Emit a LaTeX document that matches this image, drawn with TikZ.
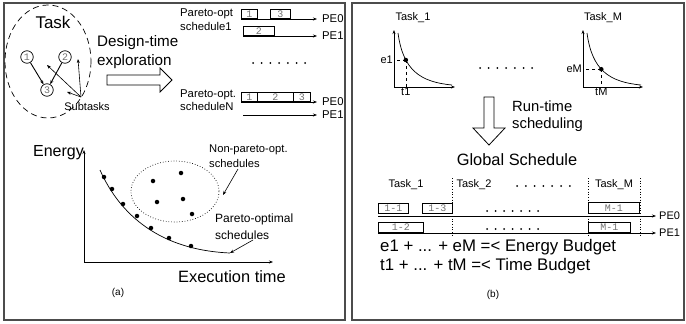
\documentclass[tikz,border=0pt]{standalone}
\usepackage{fontspec}
\setmainfont{Liberation Sans}
\setmonofont{Liberation Mono}
\usetikzlibrary{arrows.meta}
\newcommand{\fsz}[1]{\fontsize{#1pt}{#1pt}\selectfont}
\tikzset{
  panel/.style={draw=black!70, line width=1.3pt},
  lbl/.style={inner sep=0pt, font=\fsz{11.3}},
  big/.style={inner sep=0pt, font=\fsz{16.4}},
  circ/.style={circle, draw, line width=0.7pt, minimum size=12.5pt, inner sep=0pt, font=\fsz{10}\ttfamily, text=black!55},
  sbox/.style={draw, line width=0.7pt, inner sep=0pt, minimum height=9.5pt, font=\fsz{10}\ttfamily, text=black!55, anchor=south west},
  tip/.style={-{Stealth[length=4pt,width=3pt]}},
  bigdot/.style={circle, fill=black, inner sep=0pt, minimum size=4.5pt},
  sdot/.style={circle, fill=black, inner sep=0pt, minimum size=2pt},
  hollow/.style={draw, fill=white, line width=0.8pt},
  vsep/.style={dotted, line width=0.7pt},
}
\begin{document}
\begin{tikzpicture}[x=1pt,y=-1pt]
\useasboundingbox (0,0) rectangle (686,324);
% panels
\draw[panel] (4,3) rectangle (345,320);
\draw[panel] (352,3) rectangle (684,320);

% ---------- panel (a) top ----------
\draw[dashed, dash pattern=on 6pt off 4pt, line width=0.7pt] (48,61.5) ellipse [x radius=43, y radius=56.5];
\node[big, font=\fsz{17}] (task) at (53,22) {Task};
\node[circ] (s1) at (27,57) {1};
\node[circ] (s2) at (65,57) {2};
\node[circ] (s3) at (47,90) {3};
\draw[tip, line width=0.9pt] (s1) -- (s3);
\draw[tip, line width=0.9pt] (s2) -- (s3);
\node[lbl, font=\fsz{11}] (sub) at (87,107) {Subtasks};
\coordinate (so) at (81,97);
\coordinate (sa) at (47,65);
\coordinate (sb) at (78,59);
\coordinate (sc) at (67,92);
\draw[tip, line width=0.6pt] (so) -- (sa);
\draw[tip, line width=0.6pt] (so) -- (sb);
\draw[tip, line width=0.6pt] (so) -- (sc);
\node[big, anchor=west, font=\fsz{15.2}] (dt1) at (97,43) {Design-time};
\node[big, anchor=west, font=\fsz{15.2}] (dt2) at (97,62) {exploration};
\draw[hollow] (107,75) -- (160,75) -- (160,68) -- (172,80) -- (160,92) -- (160,85) -- (107,85) -- cycle;

% schedules
\node[lbl, anchor=west] (po1) at (180,14) {Pareto-opt};
\node[lbl, anchor=west] (sc1) at (180,26) {schedule1};
\node[sbox, minimum width=16pt] (b11) at (241,19) {1};
\node[sbox, minimum width=20pt] (b13) at (270,19) {3};
\node[lbl, anchor=west] (pe0a) at (322,19) {PE0};
\draw[tip, line width=0.7pt] (b11.south west) -- ([xshift=-5pt]pe0a.west);
\node[sbox, minimum width=31pt] (b12) at (243,36) {2};
\node[lbl, anchor=west] (pe1a) at (322,36) {PE1};
\draw[tip, line width=0.7pt] (b12.south west) -- ([xshift=-5pt]pe1a.west);
\foreach \i in {0,...,6} \node[sdot] (td\i) at (253+8.7*\i,63) {};
\node[lbl, anchor=west] (po2) at (180,95) {Pareto-opt.};
\node[lbl, anchor=west] (scN) at (180,106) {scheduleN};
\node[sbox, minimum width=16pt] (n1) at (241,102) {1};
\node[sbox, minimum width=36pt] (n2) at (257,102) {2};
\node[sbox, minimum width=17pt] (n3) at (293,102) {3};
\node[lbl, anchor=west] (pe0b) at (322,102) {PE0};
\draw[tip, line width=0.7pt] (n1.south west) -- ([xshift=-5pt]pe0b.west);
\coordinate (l4) at (243,115);
\node[lbl, anchor=west] (pe1b) at (322,115) {PE1};
\draw[tip, line width=0.7pt] (l4) -- ([xshift=-5pt]pe1b.west);

% ---------- panel (a) bottom ----------
\coordinate (O) at (84,262);
\coordinate (Yt) at (84,150);
\coordinate (Xe) at (273,262);
\draw[tip, line width=0.7pt] (O) -- (Yt);
\draw[tip, line width=0.7pt] (O) -- (Xe);
\node[big, anchor=east, font=\fsz{16}] (energy) at (84,153) {Energy};
\node[big] (exec) at (232,277) {Execution time};
\coordinate (cs) at (100,170);
\coordinate (ce) at (230,253);
\draw[line width=0.7pt] (cs) .. controls (120,215) and (160,250) .. (ce);
\foreach \p [count=\k] in {(104,177),(112,189),(123,204),(137,216),(151,228),(169,238),(191,246)}
  \node[bigdot] (pd\k) at \p {};
\draw[vsep] (175,191.5) ellipse [x radius=44, y radius=30.5];
\foreach \p [count=\k] in {(153,181),(181,173),(157,202),(183,199),(192,214)}
  \node[bigdot] (nd\k) at \p {};
\node[lbl, anchor=west, font=\fsz{11.2}] (np1) at (209,150) {Non-pareto-opt.};
\node[lbl, anchor=west, font=\fsz{11.2}] (np2) at (209,163) {schedules};
\coordinate (npf) at (238,169);
\coordinate (npt) at (223,195);
\draw[tip, line width=0.6pt] (npf) -- (npt);
\node[lbl, anchor=west, font=\fsz{12}] (po3) at (215,219) {Pareto-optimal};
\node[lbl, anchor=west, font=\fsz{12}] (po4) at (215,235) {schedules};
\coordinate (pof) at (253,240);
\draw[tip, line width=0.6pt] (pof) -- (ce);
\node[lbl, font=\fsz{10}] (capa) at (118,293) {(a)};

% ---------- panel (b) top ----------
\node[lbl, font=\fsz{11}] (t1) at (413,18) {Task\_1};
\coordinate (A1o) at (394,87);
\coordinate (A1t) at (394,30);
\coordinate (A1r) at (455,87);
\draw[tip, line width=0.6pt] (A1o) -- (A1t);
\draw[tip, line width=0.6pt] (A1o) -- (A1r);
\draw[line width=0.7pt] (398,33) .. controls (403,70) and (420,82) .. node[bigdot, pos=0.3] (p1) {} (452,85);
\draw[dashed, line width=0.6pt] (p1.center) -- (p1.center -| A1o);
\draw[dashed, line width=0.6pt] (p1.center) -- (p1.center |- A1o);
\node[lbl, anchor=east, font=\fsz{11}] (e1) at ([xshift=-1pt]p1.center -| A1o) {e1};
\node[lbl, anchor=north, font=\fsz{11}] (tt1) at ([yshift=-1pt]p1.center |- A1o) {t1};

\node[lbl, font=\fsz{11}] (tM) at (603,18) {Task\_M};
\coordinate (AMo) at (583,87);
\coordinate (AMt) at (583,30);
\coordinate (AMr) at (643,87);
\draw[tip, line width=0.6pt] (AMo) -- (AMt);
\draw[tip, line width=0.6pt] (AMo) -- (AMr);
\draw[line width=0.7pt] (587,33) .. controls (592,70) and (609,82) .. node[bigdot, pos=0.45] (pM) {} (641,85);
\draw[dashed, line width=0.6pt] (pM.center) -- (pM.center -| AMo);
\draw[dashed, line width=0.6pt] (pM.center) -- (pM.center |- AMo);
\node[lbl, anchor=east, font=\fsz{11}] (eM) at ([xshift=-1pt]pM.center -| AMo) {eM};
\node[lbl, anchor=north, font=\fsz{11}] (ttM) at ([yshift=-1pt]pM.center |- AMo) {tM};
\foreach \i in {0,...,6} \node[sdot] (md\i) at (480+8.7*\i,68) {};

\draw[hollow] (484,97) -- (494,97) -- (494,128) -- (505,128) -- (489,145) -- (473,128) -- (484,128) -- cycle;
\node[big, anchor=west, font=\fsz{14.8}] (rt1) at (512,106) {Run-time};
\node[big, anchor=west, font=\fsz{14.8}] (rt2) at (512,125) {scheduling};
\node[big, font=\fsz{16.4}] (gs) at (517,160) {Global Schedule};

% ---------- panel (b) bottom ----------
\node[lbl, font=\fsz{11}] (gt1) at (406,185) {Task\_1};
\node[lbl, font=\fsz{11}] (gt2) at (474,185) {Task\_2};
\node[lbl, font=\fsz{11}] (gtM) at (614,185) {Task\_M};
\foreach \i in {0,...,6} \node[sdot] (gd\i) at (517+8.8*\i,186) {};
\draw[vsep] (452,178) -- (452,237);
\draw[vsep] (588,178) -- (588,237);
\draw[vsep] (640,178) -- (640,237);

\node[sbox, minimum width=30pt, minimum height=10pt] (x11) at (378,214) {1-1};
\node[sbox, minimum width=30pt, minimum height=10pt] (x13) at (422,214) {1-3};
\node[sbox, minimum width=51pt, minimum height=11pt] (xm1) at (588,214) {M-1};
\coordinate (L0) at (378,216);
\node[lbl, anchor=west, font=\fsz{11}] (gpe0) at (659,216) {PE0};
\draw[tip, line width=0.7pt] (L0) -- ([xshift=-3pt]gpe0.west);
\foreach \i in {0,...,6} \node[sdot] (r0\i) at (487+8.5*\i,211) {};

\node[sbox, minimum width=45pt, minimum height=10pt] (x12) at (378,233) {1-2};
\node[sbox, minimum width=42pt, minimum height=10pt] (xm2) at (588,233) {M-1};
\node[lbl, anchor=west, font=\fsz{11}] (gpe1) at (659,233) {PE1};
\draw[tip, line width=0.7pt] (x12.south west) -- ([xshift=-3pt]gpe1.west);
\foreach \i in {0,...,6} \node[sdot] (r1\i) at (487+8.5*\i,229) {};

\node[big, anchor=west, font=\fsz{16.8}] (eq1) at (380,247) {e1 + ... + eM =< Energy Budget};
\node[big, anchor=west, font=\fsz{16.8}] (eq2) at (380,266) {t1 + ... + tM =< Time Budget};
\node[lbl, font=\fsz{10}] (capb) at (493,295) {(b)};
\end{tikzpicture}
\end{document}
